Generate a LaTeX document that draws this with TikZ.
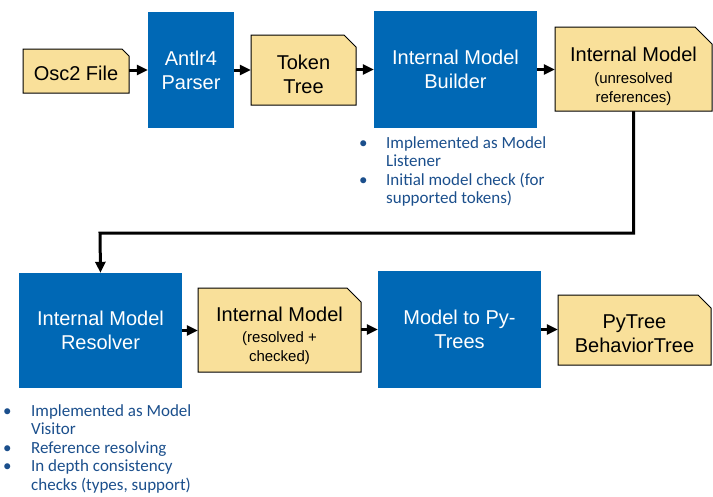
\documentclass[tikz,border=0pt]{standalone}
\usepackage{fontspec}
\setmainfont{Liberation Sans}
\newfontfamily\bulletfont{Carlito}
\usetikzlibrary{arrows.meta,calc}
\pgfdeclarelayer{background}
\pgfsetlayers{background,main}
\definecolor{intelblue}{HTML}{0068B5}
\definecolor{notey}{HTML}{F9E09A}
\definecolor{bultxt}{HTML}{1B4F8C}
\newcommand{\notebox}[8]{%
  \draw[noteshape] (#2,#3) -- ({#4-#6},#3) -- (#4,{#3+#6}) -- (#4,#5) -- (#2,#5) -- cycle;
  \node[notetext,#7,minimum width={(#4-#2)*1pt},minimum height={(#5-#3)*1pt}] (#1) at ({(#2+#4)/2},{(#3+#5)/2}) {#8};}
\begin{document}
\begin{tikzpicture}[x=1pt,y=-1pt,
  noteshape/.style={fill=notey,draw=black,line width=1pt},
  notetext/.style={inner sep=0pt,align=center,font=\fontsize{20}{24}\selectfont},
  subfont/.style={font=\fontsize{15}{19}\selectfont},
  bluebox/.style={fill=intelblue,draw=none,text=white,align=center,inner sep=0pt,font=\fontsize{20}{24}\selectfont},
  arr/.style={line width=3pt,-{Triangle[length=11pt,width=10pt]}},
  bullets/.style={inner sep=0pt,text=bultxt,font=\bulletfont\fontsize{17}{18.5}\selectfont,anchor=base west}]
\useasboundingbox (0,0) rectangle (713,496);

% top row
\notebox{osc}{23}{49}{129}{93}{7}{yshift=-2pt}{Osc2 File}
\node[bluebox,minimum width=86pt,minimum height=116pt] (antlr) at (191,70) {Antlr4\\Parser};
\notebox{token}{251}{35}{356}{105}{12}{yshift=-4pt}{Token\\Tree}
\node[bluebox,minimum width=163pt,minimum height=117pt] (builder) at (455.5,69.5) {Internal Model\\Builder};
\notebox{imu}{555}{27}{712}{111}{17}{subfont,yshift=-7pt}{{\fontsize{20}{24}\selectfont Internal Model}\\[3pt](unresolved\\references)}

% bottom row
\node[bluebox,minimum width=163pt,minimum height=115pt] (resolver) at (100.5,330.5) {Internal Model\\Resolver};
\notebox{imr}{198}{288}{361}{372}{14}{subfont,yshift=-6pt}{{\fontsize{20}{24}\selectfont Internal Model}\\[2pt](resolved +\\checked)}
\node[bluebox,minimum width=163pt,minimum height=117pt] (topy) at (459.5,329.5) {Model to Py-\\Trees};
\notebox{pytree}{558}{295}{711}{365}{13}{yshift=-4pt}{PyTree\\BehaviorTree}

% connectors
\draw[arr] (osc.east |- antlr.west) -- (antlr.west);
\draw[arr] (antlr.east) -- (token.west |- antlr.east);
\draw[arr] (token.east |- builder.west) -- (builder.west);
\draw[arr] (builder.east) -- (imu.west |- builder.east);
\coordinate (elbow) at (100,233);
\begin{pgfonlayer}{background}
\draw[arr] (imu.center) |- (elbow) -- (resolver.north);
\end{pgfonlayer}
\draw[arr] (resolver.east) -- (imr.west |- resolver.east);
\draw[arr] (imr.east |- topy.west) -- (topy.west);
\draw[arr] (topy.east) -- (pytree.west |- topy.east);

% bullet notes
\node[bullets] (notes1) at (359,148) {\begin{tabular}[t]{@{}p{27pt}@{}l@{}}•&Implemented as Model\\&Listener\\•&Initial model check (for\\&supported tokens)\end{tabular}};
\node[bullets] (notes2) at (3,416) {\begin{tabular}[t]{@{}p{28pt}@{}l@{}}•&Implemented as Model\\&Visitor\\•&Reference resolving\\•&In depth consistency\\&checks (types, support)\end{tabular}};
\end{tikzpicture}
\end{document}
